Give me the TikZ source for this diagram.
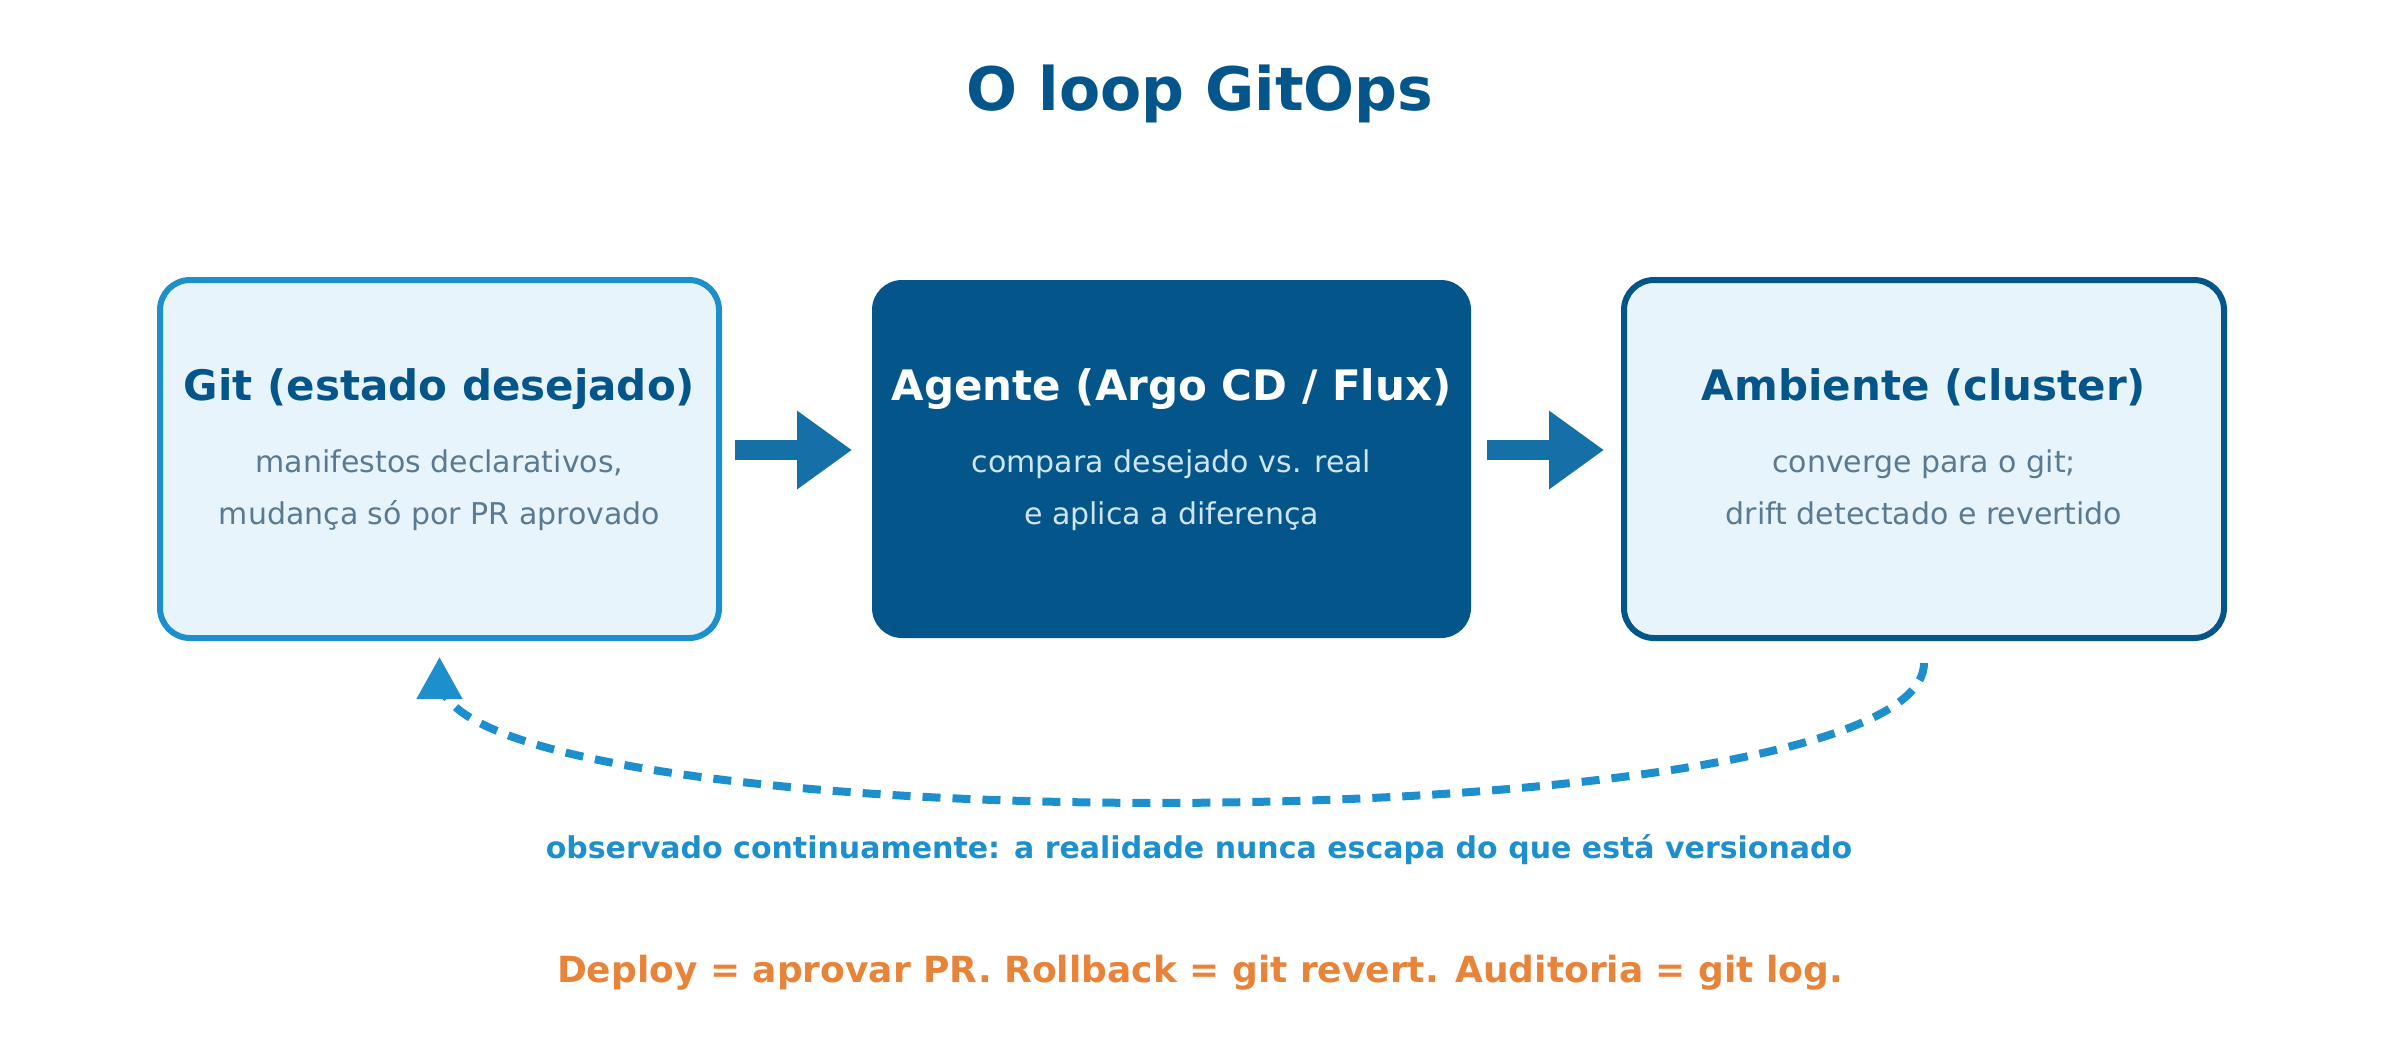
\documentclass[tikz,border=0pt]{standalone}
\usepackage{fontspec}
\setmainfont{DejaVu Sans}
\usetikzlibrary{arrows.meta,calc,decorations.markings}
\definecolor{dblue}{HTML}{04558A}
\definecolor{mblue}{HTML}{1E8FCD}
\definecolor{ablue}{HTML}{1570A8}
\definecolor{lfill}{HTML}{E8F4FB}
\definecolor{subgray}{HTML}{5A7A92}
\definecolor{sublight}{HTML}{CDE5F5}
\definecolor{orng}{HTML}{E8843A}
\begin{document}
\begin{tikzpicture}[x=0.5pt,y=-0.5pt,
  box/.style={rounded corners=15pt, minimum height=179pt, inner sep=0pt, line width=3pt},
  head/.style={anchor=base, inner sep=0pt, font=\fontsize{21}{25}\selectfont\bfseries},
  sub/.style={anchor=base, inner sep=0pt, font=\fontsize{15}{18}\selectfont},
  blockarrow/.style={draw=ablue, line width=10pt, -{Triangle[length=27.5pt,width=37.5pt]}, shorten <=6.5pt, shorten >=8.5pt},
  loopline/.style={draw=mblue, line width=4pt, dash pattern=on 9pt off 6pt,
    postaction={decorate},
    decoration={markings, mark=at position 1 with {\arrow[mblue,xshift=10.5pt]{Triangle[length=21pt,width=22pt]}}}},
]
\useasboundingbox (0,0) rectangle (2400,1040);

\node[anchor=base, inner sep=0pt, text=dblue, font=\fontsize{30}{36}\selectfont\bfseries] (title) at (1200,110) {O loop GitOps};

\node[box, draw=mblue, fill=lfill, minimum width=279.5pt] (b1) at (439.5,459) {};
\node[box, fill=dblue, minimum width=299.5pt, minimum height=179pt] (b2) at (1171.5,459) {};
\node[box, draw=dblue, fill=lfill, minimum width=300pt] (b3) at (1924,459) {};

\node[head, text=dblue] (h1) at ($(b1.center)+(0,-59)$) {Git (estado desejado)};
\node[sub, text=subgray] (s1a) at ($(b1.center)+(0,13)$) {manifestos declarativos,};
\node[sub, text=subgray] (s1b) at ($(b1.center)+(0,65)$) {mudança só por PR aprovado};

\node[head, text=white] (h2) at ($(b2.center)+(0,-59)$) {Agente (Argo CD / Flux)};
\node[sub, text=sublight] (s2a) at ($(b2.center)+(0,13)$) {compara desejado vs. real};
\node[sub, text=sublight] (s2b) at ($(b2.center)+(0,65)$) {e aplica a diferença};

\node[head, text=dblue] (h3) at ($(b3.center)+(0,-59)$) {Ambiente (cluster)};
\node[sub, text=subgray] (s3a) at ($(b3.center)+(0,13)$) {converge para o git;};
\node[sub, text=subgray] (s3b) at ($(b3.center)+(0,65)$) {drift detectado e revertido};

\draw[blockarrow] ($(b1.east)+(0,-9)$) -- ($(b2.west)+(0,-9)$);
\draw[blockarrow] ($(b2.east)+(0,-9)$) -- ($(b3.west)+(0,-9)$);

\draw[loopline] ($(b3.south)+(0,22)$) .. controls ($(b3.south)+(0,206)$) and ($(b1.south)+(0,206)$) .. ($(b1.south)+(0,37)$);

\node[anchor=base, inner sep=0pt, text=mblue, font=\fontsize{15}{18}\selectfont\bfseries] (lbl) at (1199,858) {observado continuamente: a realidade nunca escapa do que está versionado};
\node[anchor=base, inner sep=0pt, text=orng, font=\fontsize{18}{22}\selectfont\bfseries] (foot) at (1200,982) {Deploy = aprovar PR. Rollback = git revert. Auditoria = git log.};
\end{tikzpicture}
\end{document}
